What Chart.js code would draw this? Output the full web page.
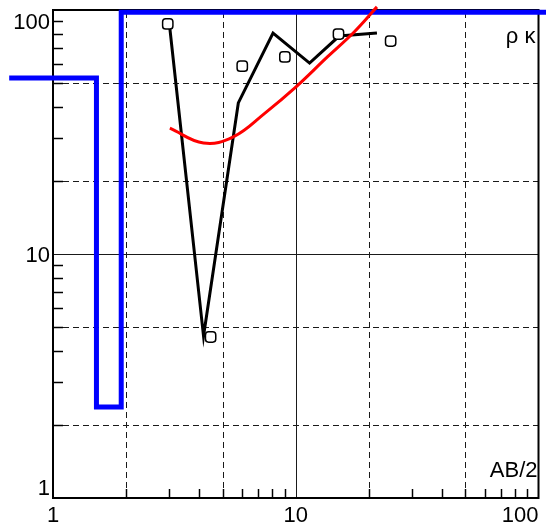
<!DOCTYPE html>
<html>
<head>
<meta charset="utf-8">
<script src="https://cdn.jsdelivr.net/npm/chart.js@4/dist/chart.umd.min.js"></script>
<style>
  html, body { margin: 0; padding: 0; background: #fff; }
  canvas { display: block; }
</style>
</head>
<body>
<canvas id="vesChart" width="546" height="525"></canvas>
<script>
// layer model (blue step line): AB/2 breakpoints and resistivities
const modelAB = [0.66, 1.51, 1.91, 130];
const modelRho = [52.6, 2.36, 98, 98];

// field curve (black line)
const fieldAB = [3.03, 4.17, 5.80, 8.06, 11.4, 15.1, 21.6];
const fieldRho = [84, 4.61, 41.6, 80.5, 60.6, 78.2, 80.5];

// measured points (open markers)
const pointAB = [2.97, 4.46, 6.02, 9.02, 15.0, 24.6];
const pointRho = [87.7, 4.57, 58.9, 64.2, 79.7, 74.6];

// calculated curve (red)
const calcAB = [3.03, 4.17, 5.53, 7.47, 10.0, 13.5, 17.4, 21.6];
const calcRho = [32.8, 28.5, 30.2, 37.8, 48.3, 64.2, 81.3, 103];

const tickLabels = [1, 10, 100];
const gridValues = [2, 5, 10, 20, 50];
const minorValues = [2, 3, 4, 5, 6, 7, 8, 9, 20, 30, 40, 50, 60, 70, 80, 90];

const LABEL_FONT = '22px "Liberation Sans", Arial, sans-serif';

function toPoints(xs, ys) {
    return xs.map((x, i) => ({ x: x, y: ys[i] }));
}

// grid, minor ticks and frame, drawn under the data
const gridPlugin = {
    id: 'gridPlugin',
    beforeDatasetsDraw(chart) {
        const { ctx, chartArea: a, scales: { x, y } } = chart;
        ctx.save();
        ctx.strokeStyle = '#1a1a1a';
        ctx.lineWidth = 1;
        gridValues.forEach(v => {
            ctx.setLineDash(v === 10 ? [] : [6, 4]);
            const px = Math.round(x.getPixelForValue(v)) + 0.5;
            ctx.beginPath();
            ctx.moveTo(px, a.bottom);
            ctx.lineTo(px, a.top);
            ctx.stroke();
            const py = Math.round(y.getPixelForValue(v)) + 0.5;
            ctx.beginPath();
            ctx.moveTo(a.left, py);
            ctx.lineTo(a.right, py);
            ctx.stroke();
        });
        ctx.setLineDash([]);
        ctx.strokeStyle = '#000';
        ctx.lineWidth = 1.5;
        minorValues.forEach(v => {
            const py = Math.round(y.getPixelForValue(v)) + 0.5;
            ctx.beginPath();
            ctx.moveTo(a.left, py);
            ctx.lineTo(a.left + 10, py);
            ctx.stroke();
            const px = Math.round(x.getPixelForValue(v)) + 0.5;
            ctx.beginPath();
            ctx.moveTo(px, a.bottom);
            ctx.lineTo(px, a.bottom - 9);
            ctx.stroke();
        });
        ctx.lineWidth = 2;
        ctx.strokeRect(a.left, a.top, a.right - a.left, a.bottom - a.top);
        ctx.restore();
    },
    afterDraw(chart) {
        const { ctx, chartArea: a, scales: { x, y } } = chart;
        ctx.save();
        ctx.font = LABEL_FONT;
        ctx.fillStyle = '#000';
        ctx.textBaseline = 'alphabetic';
        // y tick labels, kept inside the plot height
        ctx.textAlign = 'right';
        tickLabels.forEach(v => {
            let base = y.getPixelForValue(v) + 8;
            if (base - 17 < a.top) base = a.top + 19;
            if (base > a.bottom) base = a.bottom - 3;
            ctx.fillText(String(v), a.left - 3, base);
        });
        // x tick labels, kept inside the plot width
        tickLabels.forEach(v => {
            const txt = String(v);
            const w = ctx.measureText(txt).width;
            let cx = x.getPixelForValue(v);
            if (cx + w / 2 > a.right) cx = a.right - w / 2;
            ctx.textAlign = 'center';
            ctx.fillText(txt, cx, a.bottom + 24);
        });
        ctx.textAlign = 'right';
        ctx.fillText('AB/2', a.right - 1, a.bottom - 21);
        ctx.fillText('\u03c1 \u03ba', a.right - 3, a.top + 33);
        ctx.restore();
    }
};

document.addEventListener('DOMContentLoaded', function () {
    const ctx = document.getElementById('vesChart');
    new Chart(ctx, {
        type: 'line',
        data: {
            datasets: [
                {
                    label: 'calculated',
                    data: toPoints(calcAB, calcRho),
                    borderColor: '#ff0000',
                    borderWidth: 3,
                    tension: 0.4,
                    pointRadius: 0,
                    clip: false,
                    order: 0
                },
                {
                    label: 'points',
                    data: toPoints(pointAB, pointRho),
                    showLine: false,
                    pointStyle: 'rectRounded',
                    pointRadius: 6,
                    pointBorderWidth: 1.5,
                    pointBorderColor: '#000',
                    pointBackgroundColor: '#fff',
                    order: 1
                },
                {
                    label: 'field',
                    data: toPoints(fieldAB, fieldRho),
                    borderColor: '#000',
                    borderWidth: 3,
                    tension: 0,
                    pointRadius: 0,
                    borderJoinStyle: 'miter',
                    order: 2
                },
                {
                    label: 'model',
                    data: toPoints(modelAB, modelRho),
                    borderColor: '#0000ff',
                    borderWidth: 5,
                    stepped: 'before',
                    pointRadius: 0,
                    borderJoinStyle: 'miter',
                    borderCapStyle: 'butt',
                    clip: false,
                    order: 3
                }
            ]
        },
        options: {
            responsive: false,
            animation: false,
            layout: { padding: { left: 53, top: 10, right: 3, bottom: 27 } },
            scales: {
                x: { type: 'logarithmic', min: 1, max: 100, display: false },
                y: { type: 'logarithmic', min: 1, max: 100, display: false }
            },
            plugins: {
                legend: { display: false },
                tooltip: { enabled: false }
            }
        },
        plugins: [gridPlugin]
    });
});
</script>
</body>
</html>
